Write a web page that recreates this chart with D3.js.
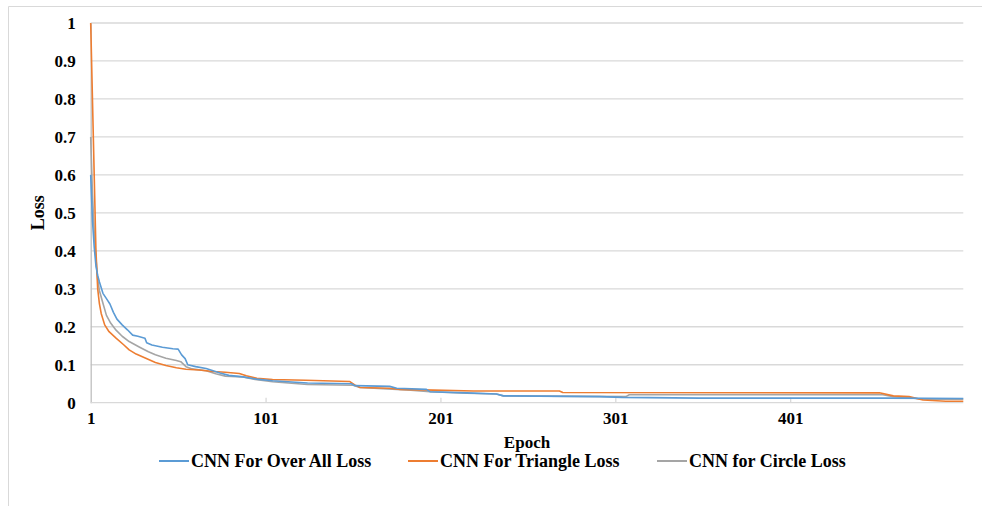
<!DOCTYPE html>
<html>
<head>
<meta charset="utf-8">
<script src="https://cdn.jsdelivr.net/npm/d3@7/dist/d3.min.js"></script>
<style>
  html, body { margin: 0; padding: 0; background: #ffffff; }
  svg { display: block; }
  text { font-family: "Liberation Serif", "Times New Roman", serif; font-weight: bold; fill: #000; }
</style>
</head>
<body>
<svg id="chart" width="982" height="506"></svg>
<script>
// ---- Data ----
const seriesNames = ["CNN For Over All Loss", "CNN For Triangle Loss", "CNN for Circle Loss"];
const seriesColors = ["#5B9BD5", "#ED7D31", "#A5A5A5"];
const xTickLabels = [1, 101, 201, 301, 401];
const yTickLabels = [0, 0.1, 0.2, 0.3, 0.4, 0.5, 0.6, 0.7, 0.8, 0.9, 1];

// [epoch, loss]
const overAllLoss = [
  [1,0.60],[2,0.48],[3,0.41],[4,0.36],[5,0.335],[6,0.318],[8,0.288],[10,0.274],[12,0.26],
  [14,0.238],[16,0.22],[19,0.205],[22,0.192],[25,0.178],[28,0.175],[32,0.170],[33,0.158],
  [36,0.152],[42,0.146],[48,0.142],[51,0.141],[53,0.126],[55,0.116],[56.5,0.100],[61,0.095],
  [67,0.090],[71,0.084],[75,0.078],[80,0.072],[88,0.068],[96,0.062],[105,0.058],[125,0.052],
  [150,0.050],[152,0.045],[172,0.043],[176,0.038],[193,0.035],[195,0.029],[216,0.026],
  [233,0.023],[237,0.018],[292,0.016],[305,0.014],[349,0.012],[456,0.012],[500,0.011]
];
const triangleLoss = [
  [1,1.0],[2,0.80],[3,0.60],[4,0.40],[5,0.30],[6,0.26],[7,0.235],[9,0.205],[11.5,0.187],
  [15.5,0.170],[20,0.152],[23,0.139],[27,0.128],[32.5,0.117],[38,0.106],[44,0.098],[50,0.092],
  [55.5,0.088],[63,0.086],[71,0.082],[78,0.080],[86,0.077],[90,0.071],[96,0.064],[105,0.061],
  [124,0.059],[149,0.056],[152,0.047],[155,0.040],[172,0.038],[178,0.035],[197,0.033],
  [220,0.031],[269,0.031],[271,0.027],[452,0.026],[460,0.018],[469,0.016],[477,0.007],
  [490,0.004],[500,0.004]
];
const circleLoss = [
  [1,0.70],[2,0.55],[3,0.45],[4,0.38],[5,0.325],[6,0.295],[8,0.262],[10,0.23],[12.5,0.209],
  [15.5,0.191],[19,0.175],[23,0.161],[29,0.146],[34,0.134],[38,0.126],[44,0.117],[50,0.111],
  [52.5,0.108],[55.5,0.095],[59,0.089],[67,0.084],[72.5,0.076],[78,0.070],[88,0.068],
  [95,0.061],[105,0.055],[125,0.048],[151,0.046],[155,0.040],[184,0.033],[195,0.029],
  [216,0.025],[233,0.023],[237,0.018],[307,0.016],[309,0.021],[454,0.021],[460,0.016],
  [469,0.013],[477,0.009],[500,0.009]
];
const allSeries = [overAllLoss, triangleLoss, circleLoss];

// ---- Layout ----
const svg = d3.select("#chart");
const plot = { left: 90.7, right: 963.3, top: 23, bottom: 402.7 };

const x = d3.scaleLinear().domain([1, 500]).range([plot.left, plot.right]);
const y = d3.scaleLinear().domain([0, 1]).range([plot.bottom, plot.top]);

// chart border
svg.append("path")
  .attr("d", `M8.5,506 L8.5,6.5 L982,6.5`)
  .attr("fill", "none").attr("stroke", "#d9d9d9").attr("stroke-width", 1);

// gridlines
svg.append("g")
  .selectAll("line").data(yTickLabels.filter(d => d > 0)).join("line")
  .attr("x1", plot.left).attr("x2", plot.right)
  .attr("y1", d => y(d)).attr("y2", d => y(d))
  .attr("stroke", "#d9d9d9").attr("stroke-width", 1.3);

// y axis
const yAxis = d3.axisLeft(y).tickValues(yTickLabels).tickSize(0).tickPadding(15)
  .tickFormat(d => d3.format("")(+d.toFixed(1)));
const gy = svg.append("g").attr("transform", `translate(${plot.left},0)`).call(yAxis);
gy.select(".domain").attr("stroke", "#bfbfbf").attr("stroke-width", 1.3);
gy.selectAll("text").attr("font-size", 17).attr("dy", "0.35em")
  .style("font-family", '"Liberation Serif", serif').style("font-weight", "bold");

// x axis
const xAxis = d3.axisBottom(x).tickValues(xTickLabels).tickSize(0).tickPadding(0);
const gx = svg.append("g").attr("transform", `translate(0,${plot.bottom})`).call(xAxis);
gx.select(".domain").attr("d", `M${plot.left},0H${plot.right}`).attr("stroke", "#d9d9d9").attr("stroke-width", 1.3);
gx.selectAll(".tick text").attr("font-size", 17).attr("y", 21).attr("dy", 0)
  .style("font-family", '"Liberation Serif", serif').style("font-weight", "bold");
gx.selectAll(".tick").filter(d => d !== 1).append("line")
  .attr("y1", -5).attr("y2", 0).attr("stroke", "#d9d9d9").attr("stroke-width", 1.3);

// lines
const line = d3.line().x(d => x(d[0])).y(d => y(d[1]));
const order = [2, 1, 0]; // draw gray, orange, blue
svg.append("g").selectAll("path").data(order).join("path")
  .attr("d", i => line(allSeries[i]))
  .attr("fill", "none")
  .attr("stroke", i => seriesColors[i])
  .attr("stroke-width", 1.6)
  .attr("stroke-linejoin", "round");

// axis titles
svg.append("text").attr("x", (plot.left + plot.right) / 2).attr("y", 447.5)
  .attr("text-anchor", "middle").attr("font-size", 17).text("Epoch");
svg.append("text").attr("transform", `translate(44,${(plot.top + plot.bottom) / 2}) rotate(-90)`)
  .attr("text-anchor", "middle").attr("font-size", 18).text("Loss");

// legend
const legendX = [159, 408, 657];
const lg = svg.append("g").selectAll("g").data(seriesNames).join("g")
  .attr("transform", (d, i) => `translate(${legendX[i]},461)`);
lg.append("line").attr("x1", 0).attr("x2", 30).attr("y1", 0).attr("y2", 0)
  .attr("stroke", (d, i) => seriesColors[i]).attr("stroke-width", 2);
lg.append("text").attr("x", 32).attr("y", 5.5).attr("font-size", 18).text(d => d);
</script>
</body>
</html>
